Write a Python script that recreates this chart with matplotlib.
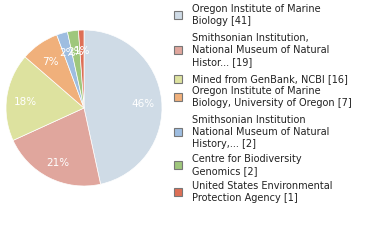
import matplotlib
matplotlib.use("Agg")
import matplotlib.pyplot as plt
from matplotlib.patches import Rectangle

# ---------------- DATA ----------------
labels = [
    "Oregon Institute of Marine\nBiology [41]",
    "Smithsonian Institution,\nNational Museum of Natural\nHistor... [19]",
    "Mined from GenBank, NCBI [16]",
    "Oregon Institute of Marine\nBiology, University of Oregon [7]",
    "Smithsonian Institution\nNational Museum of Natural\nHistory,... [2]",
    "Centre for Biodiversity\nGenomics [2]",
    "United States Environmental\nProtection Agency [1]",
]
counts = [41, 19, 16, 7, 2, 2, 1]
colors = ["#cfdbe6", "#e0a69d", "#dde29f", "#f0b07b", "#9ebde0", "#9fc77c", "#dd6f56"]

# ---------------- LAYOUT ----------------
W, H = 380, 240
fig = plt.figure(figsize=(W / 100, H / 100), dpi=100)

cx, cy, r = 84, 108, 78
ax = fig.add_axes([(cx - r) / W, (H - cy - r) / H, 2 * r / W, 2 * r / H])
wedges, texts, autotexts = ax.pie(
    counts, colors=colors, startangle=90, counterclock=False,
    autopct=lambda p: f"{int(p)}%", pctdistance=0.76,
    wedgeprops=dict(edgecolor="white", linewidth=0.5),
    textprops=dict(color="white", fontsize=7.5),
)
# nudge the percent labels down a touch, like the reference
for t in autotexts:
    x, y = t.get_position()
    t.set_position((x, y - 0.03))
ax.set_xlim(-1, 1)
ax.set_ylim(-1, 1)
ax.set_aspect("equal")

# legend drawn by hand (first-line y in pixels, line step 12px)
tops = [9, 38, 79, 91, 120, 159, 186]
step = 12
for lab, col, top in zip(labels, colors, tops):
    lines = lab.split("\n")
    mid = top + step * (len(lines) - 1) / 2
    fig.patches.append(Rectangle((174 / W, 1 - (mid + 4) / H), 8 / W, 8 / H,
                                 transform=fig.transFigure, facecolor=col,
                                 edgecolor="#777777", linewidth=0.8))
    for i, line in enumerate(lines):
        fig.text(192 / W, 1 - (top + i * step) / H, line, fontsize=7,
                 color="#222222", va="center", ha="left")

fig.savefig("out.png", dpi=100)
